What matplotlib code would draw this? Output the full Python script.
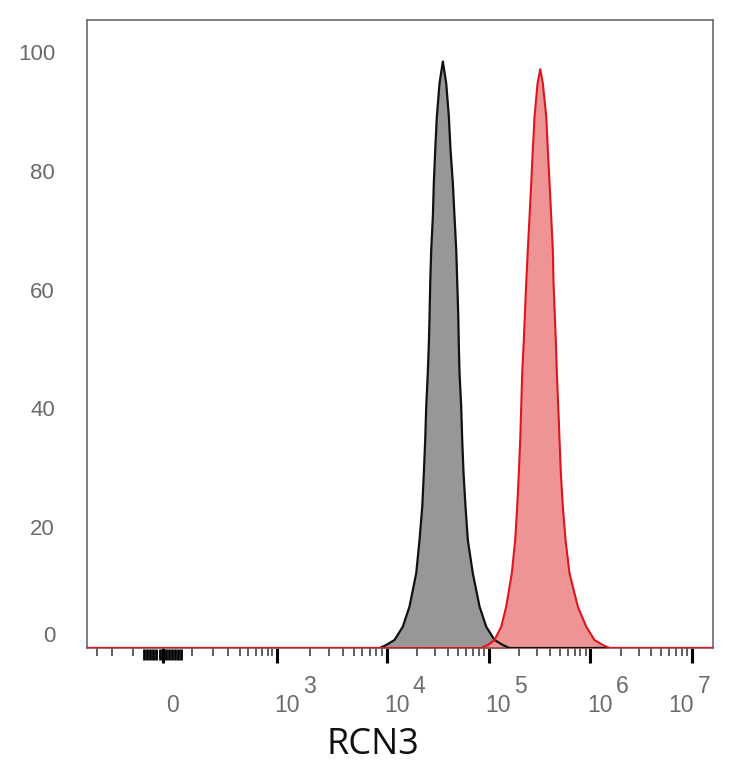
import numpy as np
import matplotlib
matplotlib.use("Agg")
import matplotlib.pyplot as plt
from matplotlib import transforms as mtransforms

# ---------------- data ----------------
# isotype control (gray histogram): fluorescence intensity vs. % of max
gray_x = [9850, 11890, 14350, 16700, 19440, 20940, 22280, 23100, 23830, 24380,
          25270, 25900, 26270, 26700, 27290, 28320, 28960, 29890, 31000, 32940,
          35510,
          38350, 40690, 42270, 44530, 46280, 48100, 49210, 50370, 51030, 51810,
          53820, 55060, 56740, 59350, 62530, 70000, 81500, 94800, 114500, 138100]
gray_y = [0.5, 1.35, 3.6, 7.0, 12.6, 18.2, 23.8, 29.5, 35.1, 40.7,
          46.4, 51.5, 55.9, 61.6, 67.1, 72.7, 78.4, 84.0, 89.6, 95.2,
          98.9,
          95.2, 89.6, 84.0, 78.4, 72.7, 67.1, 61.6, 55.9, 50.8, 46.4,
          40.7, 35.1, 29.5, 23.8, 18.2, 12.6, 7.0, 3.6, 1.35, 0.5]
gray_start, gray_end = 8600, 160000        # where the gray trace leaves/returns to 0

# RCN3 stained (red histogram)
red_x = [98300, 114500, 133300, 149200, 169300, 182800, 191200, 198500, 204800,
         209500, 214200, 221500, 227200, 234600, 243200, 252800, 262700, 272300,
         283100, 303100, 322100,
         341700, 369100, 382600, 397800, 413200, 428400, 435200, 448500, 459000,
         469100, 484300, 498600, 513700, 537400, 571200, 624900, 754000, 912000,
         1101000, 1329000]
red_y = [0.5, 1.35, 3.6, 7.0, 12.6, 18.2, 23.8, 29.5, 35.1,
         40.7, 46.4, 51.5, 55.9, 61.6, 67.1, 72.7, 78.4, 84.0,
         89.6, 95.2, 97.6,
         95.2, 89.6, 84.0, 78.4, 72.7, 67.1, 61.6, 55.9, 51.5,
         46.4, 40.7, 35.1, 29.5, 23.8, 18.2, 12.6, 7.0, 3.6,
         1.35, 0.5]
red_start, red_end = 85000, 1550000

y_ticks = [0, 20, 40, 60, 80, 100]
x_major = [0, 1e3, 1e4, 1e5, 1e6, 1e7]
x_major_labels = [("0", ""), ("10", "3"), ("10", "4"), ("10", "5"), ("10", "6"), ("10", "7")]
x_label = "RCN3"

X_MIN, X_MAX = -385, 1.61e7
Y_MAX = 105.9

# ---------------- biexponential-like axis scale ----------------
LIN_W = 130.0
CAL_VAL = np.array([-300.0, 0.0, 1e3, 1e4, 1e7])      # calibration values
CAL_POS = np.array([97.0, 163.0, 277.0, 387.0, 692.0])  # their relative axis positions
_S = np.arcsinh(CAL_VAL / LIN_W)
_k0 = (CAL_POS[1] - CAL_POS[0]) / (_S[1] - _S[0])
_k1 = (CAL_POS[-1] - CAL_POS[-2]) / (_S[-1] - _S[-2])


def _fwd(x):
    s = np.arcsinh(np.asarray(x, dtype=float) / LIN_W)
    out = np.interp(s, _S, CAL_POS)
    out = np.where(s < _S[0], CAL_POS[0] + (s - _S[0]) * _k0, out)
    out = np.where(s > _S[-1], CAL_POS[-1] + (s - _S[-1]) * _k1, out)
    return out


def _inv(p):
    p = np.asarray(p, dtype=float)
    s = np.interp(p, CAL_POS, _S)
    s = np.where(p < CAL_POS[0], _S[0] + (p - CAL_POS[0]) / _k0, s)
    s = np.where(p > CAL_POS[-1], _S[-1] + (p - CAL_POS[-1]) / _k1, s)
    return LIN_W * np.sinh(s)


# ---------------- figure ----------------
W, H, DPI = 734, 768, 100
fig = plt.figure(figsize=(W / DPI, H / DPI), dpi=DPI)
ax = fig.add_axes([87 / W, 1 - 648 / H, (713 - 87) / W, (648 - 20) / H])
ax.set_xscale("function", functions=(_fwd, _inv))
ax.set_xlim(X_MIN, X_MAX)
ax.set_ylim(0, Y_MAX)

gx = np.concatenate([[X_MIN, gray_start], gray_x, [gray_end, X_MAX]])
gy = np.concatenate([[0, 0], gray_y, [0, 0]])
rx = np.concatenate([[X_MIN, red_start], red_x, [red_end, X_MAX]])
ry = np.concatenate([[0, 0], red_y, [0, 0]])

ax.fill_between(gx, 0, gy, color="#979797", lw=0, zorder=1)
ax.plot(gx, gy, color="#111111", lw=1.6, zorder=3, solid_joinstyle="round")
ax.fill_between(rx, 0, ry, color="#EE9494", lw=0, zorder=2)
ax.plot(rx, ry, color="#E0141E", lw=1.5, zorder=4, solid_joinstyle="round")

# spines
for sp in ax.spines.values():
    sp.set_color("#6a6a6a")
    sp.set_linewidth(1.2)
ax.spines["bottom"].set_color("#8a5050")

# x ticks
minor = [-300, -200, -100] + \
        list(range(100, 1000, 100)) + [k * 10 ** e for e in range(3, 7) for k in range(2, 10)]
near_zero = [v for v in range(-60, 70, 10) if v != 0]
ax.set_xticks(x_major)
ax.set_xticks(minor, minor=True)
ax.set_xticklabels([])
ax.set_xticklabels([], minor=True)
ax.tick_params(axis="x", which="major", direction="out", length=11, width=2.2, color="black")
ax.tick_params(axis="x", which="minor", direction="out", length=6, width=1.1, color="#333333")
# dense ticks around zero (drawn as a block in the reference)
ax.vlines(near_zero, 0, 1, transform=mtransforms.blended_transform_factory(ax.transData, ax.transAxes),
          lw=0)  # placeholder keeps autoscale untouched
zt = mtransforms.blended_transform_factory(ax.transData, fig.transFigure)
for v in near_zero:
    ax.plot([v, v], [1 - 649 / H, 1 - 660 / H], transform=zt, color="black",
            lw=2.0, solid_capstyle="butt", clip_on=False)

# y ticks (labels drawn manually)
ax.set_yticks(y_ticks)
ax.set_yticklabels([])
ax.tick_params(axis="y", which="both", length=0)

label_color = "#6b6b6b"
tick_font = "Liberation Sans"
ytrans = mtransforms.blended_transform_factory(ax.transAxes, ax.transData)
for v in y_ticks:
    dy = 12 if v == 0 else 0
    t = ytrans + mtransforms.ScaledTranslation(-32 / DPI, dy / DPI, fig.dpi_scale_trans)
    ax.text(0, v, str(v), transform=t, ha="right", va="center",
            fontsize=16, color=label_color, family=tick_font)

xtrans = mtransforms.blended_transform_factory(ax.transData, fig.transFigure)
base_y = 1 - 705 / H
sup_y = 1 - 686.5 / H
for v, (base, sup) in zip(x_major, x_major_labels):
    if sup == "":
        t = xtrans + mtransforms.ScaledTranslation(10 / DPI, 0, fig.dpi_scale_trans)
        ax.text(v, base_y, base, transform=t, ha="center", va="center",
                fontsize=16.5, color=label_color, family=tick_font, clip_on=False)
        continue
    dx_base, dx_sup = (-24, 6) if v == 1e7 else (-3, 26)
    t1 = xtrans + mtransforms.ScaledTranslation(dx_base / DPI, 0, fig.dpi_scale_trans)
    t2 = xtrans + mtransforms.ScaledTranslation(dx_sup / DPI, 0, fig.dpi_scale_trans)
    ax.text(v, base_y, base, transform=t1, ha="left", va="center",
            fontsize=16.5, color=label_color, family=tick_font, clip_on=False)
    ax.text(v, sup_y, sup, transform=t2, ha="left", va="center",
            fontsize=16.5, color=label_color, family=tick_font, clip_on=False)

fig.text(372.5 / W, 1 - 745 / H, x_label, ha="center", va="center",
         fontsize=26, color="#111111", family="Open Sans")

fig.savefig("out.png", dpi=DPI)
